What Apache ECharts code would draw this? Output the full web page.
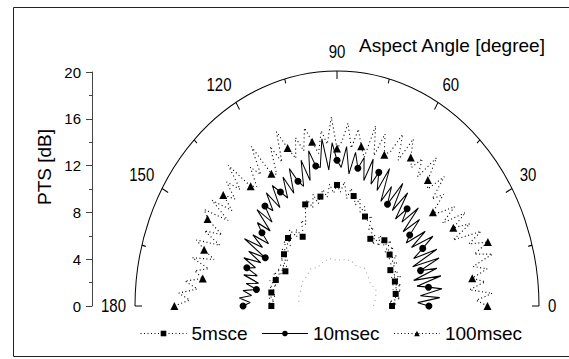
<!DOCTYPE html>
<html>
<head>
<meta charset="utf-8">
<script src="https://cdn.jsdelivr.net/npm/echarts@6/dist/echarts.min.js"></script>
<style>
  html, body { margin: 0; padding: 0; background: #fff; }
  #wrap { position: relative; width: 569px; height: 359px; overflow: hidden; background: #fff; }
  /* the polar plot is drawn round and stretched vertically into an ellipse */
  #polarLayer { position: absolute; left: 0; top: 0; width: 569px; height: 309px;
                transform-origin: 0 0; transform: scaleY(1.1634); }
  #frameLayer { position: absolute; left: 0; top: 0; width: 569px; height: 359px; }
</style>
</head>
<body>
<div id="wrap">
  <div id="polarLayer"></div>
  <div id="frameLayer"></div>
</div>
<script>
const FONT = "'Liberation Sans', Arial, sans-serif";
const STRETCH = 1.1634;

// aspect angle [degree]
const angles = [
  0, 2, 4, 6, 8, 10, 12, 14, 16, 18,
  20, 22, 24, 26, 28, 30, 32, 34, 36, 38,
  40, 42, 44, 46, 48, 50, 52, 54, 56, 58,
  60, 62, 64, 66, 68, 70, 72, 74, 76, 78,
  80, 82, 84, 86, 88, 90, 92, 94, 96, 98,
  100, 102, 104, 106, 108, 110, 112, 114, 116, 118,
  120, 122, 124, 126, 128, 130, 132, 134, 136, 138,
  140, 142, 144, 146, 148, 150, 152, 154, 156, 158,
  160, 162, 164, 166, 168, 170, 172, 174, 176, 178,
  180
];

// PTS [dB], 5 msec integration
const pts5 = [
  5.45, 5.9, 5.2, 6.3, 5.6, 5.9, 6.5, 5.7, 6.6, 5.8,
  6.1, 6.8, 5.9, 6.7, 6.2, 6.1, 7.0, 6.4, 7.3, 6.5,
  6.8, 7.5, 6.6, 7.7, 6.9, 7.3, 6.5, 7.4, 6.3, 7.1,
  6.6, 7.6, 7.2, 8.4, 7.8, 8.1, 8.9, 8.3, 9.4, 8.8,
  9.5, 10.1, 9.2, 10.6, 9.7, 10.3, 9.6, 10.4, 9.3, 10.0,
  9.45, 8.9, 9.8, 8.7, 9.5, 9.2, 8.3, 7.6, 8.1, 7.2,
  6.8, 7.7, 7.1, 8.0, 7.3, 7.55, 6.9, 7.6, 6.7, 7.3,
  6.85, 6.2, 6.9, 6.0, 6.6, 5.9, 6.7, 6.1, 6.9, 6.3,
  6.45, 7.0, 6.2, 6.9, 6.4, 6.6, 6.1, 6.8, 6.2, 6.7,
  6.5
];

// PTS [dB], 10 msec integration
const pts10 = [
  9.1, 8.0, 10.2, 8.3, 10.5, 9.2, 8.1, 10.6, 7.9, 10.4,
  8.8, 10.9, 8.2, 11.0, 8.6, 9.8, 11.2, 8.9, 10.8, 8.7,
  9.4, 11.0, 9.1, 11.6, 9.6, 10.8, 9.4, 11.9, 9.8, 12.3,
  10.0, 11.5, 9.9, 12.8, 10.6, 12.1, 10.9, 13.0, 11.0, 12.9,
  11.9, 13.2, 11.3, 13.6, 11.8, 12.4, 13.9, 11.6, 14.3, 11.9,
  12.1, 13.5, 11.0, 12.9, 10.7, 11.3, 12.6, 10.5, 12.2, 10.4,
  11.2, 12.1, 10.1, 11.9, 10.3, 11.1, 9.6, 11.4, 9.2, 10.6,
  9.7, 8.6, 10.3, 8.9, 10.8, 8.2, 9.9, 8.4, 10.1, 8.7,
  9.5, 8.3, 9.6, 8.0, 9.2, 8.1, 9.4, 8.5, 9.7, 8.6,
  9.3
];

// PTS [dB], 100 msec integration
const pts100 = [
  14.9, 13.8, 15.4, 13.2, 14.8, 13.6, 15.2, 13.9, 16.0, 14.3,
  15.9, 14.1, 15.6, 12.8, 14.9, 13.3, 15.0, 12.6, 14.4, 12.9,
  12.4, 14.2, 13.1, 15.3, 13.4, 14.0, 16.0, 13.6, 15.1, 13.9,
  14.6, 16.1, 13.8, 16.0, 14.2, 13.7, 15.4, 13.3, 15.8, 12.9,
  13.8, 15.2, 13.5, 15.6, 14.0, 13.4, 16.1, 13.8, 15.0, 13.1,
  14.2, 15.5, 13.6, 14.9, 13.2, 14.3, 16.0, 13.4, 15.1, 12.7,
  13.0, 16.0, 13.5, 14.6, 12.9, 13.3, 16.1, 13.8, 15.2, 13.6,
  14.7, 13.2, 15.3, 13.0, 15.5, 14.8, 12.9, 14.6, 12.7, 15.0,
  14.0, 12.8, 14.9, 13.1, 14.4, 13.5, 15.2, 13.9, 15.7, 14.6,
  16.1
];

// faint inner trace near 4 dB
const floorAngles = [0, 10, 20, 30, 40, 50, 60, 70, 80, 90, 100, 110, 120, 130, 140, 150, 160, 170, 180];
const floorPts = [3.6, 3.9, 4.1, 3.8, 4.0, 4.2, 3.9, 4.1, 4.0, 3.9, 4.1, 4.0, 3.8, 4.1, 3.9, 4.0, 3.8, 3.9, 3.7];

const seriesNames = ['5msce', '10msec', '100msec'];
const seriesSymbols = ['rect', 'circle', 'triangle'];
const markerSizes = [6, 7, 8];
const lineTypes = [[1, 2.5], 'solid', [1, 2.5]];
const seriesValues = [pts5, pts10, pts100];

// markers sit on every 10 degrees; they are pre-squashed so they stay round after the stretch
function polarData(vals, size) {
  return vals.map((r, i) => ({
    value: [r, angles[i]],
    symbolSize: angles[i] % 10 === 0 ? [size, size / STRETCH] : 0
  }));
}

const polarChart = echarts.init(document.getElementById('polarLayer'), null, { renderer: 'svg' });
polarChart.setOption({
  animation: false,
  polar: { center: [337, 263], radius: 202 },
  angleAxis: {
    type: 'value', min: 0, max: 180, interval: 30,
    startAngle: 0, endAngle: 180, clockwise: false,
    axisLine: { lineStyle: { color: '#000', width: 1 } },
    axisTick: { inside: true, length: 7, lineStyle: { color: '#000' } },
    minorTick: { show: true, splitNumber: 2, length: 4, lineStyle: { color: '#000' } },
    axisLabel: { fontSize: 15, color: '#000', margin: 9, fontFamily: FONT },
    splitLine: { show: false },
    minorSplitLine: { show: false }
  },
  radiusAxis: {
    type: 'value', min: 0, max: 20, show: false,
    splitLine: { show: false }
  },
  series: [
    {
      name: 'floor', type: 'line', coordinateSystem: 'polar', silent: true,
      symbol: 'none',
      lineStyle: { color: '#aaa', width: 1, type: [1, 3.5] },
      data: floorPts.map((r, i) => [r, floorAngles[i]])
    }
  ].concat(seriesNames.map((name, k) => ({
    name: name, type: 'line', coordinateSystem: 'polar', silent: true,
    symbol: seriesSymbols[k],
    showAllSymbol: true,
    itemStyle: { color: '#000' },
    lineStyle: { color: '#000', width: 1, type: lineTypes[k] },
    data: polarData(seriesValues[k], markerSizes[k])
  })))
});

// frame, radial scale, title and legend (unstretched)
const frameChart = echarts.init(document.getElementById('frameLayer'), null, { renderer: 'svg' });
frameChart.setOption({
  animation: false,
  graphic: [{
    type: 'rect', silent: true,
    shape: { x: 13.5, y: 7.5, width: 600, height: 349 },
    style: { fill: null, stroke: '#222', lineWidth: 1 }
  }],
  title: {
    text: 'Aspect Angle [degree]', left: 359, top: 36, padding: 0,
    textStyle: { fontSize: 19, fontWeight: 'normal', color: '#000', fontFamily: FONT }
  },
  grid: { left: 92, top: 72, height: 234, width: 10 },
  xAxis: { type: 'value', show: false, min: 0, max: 1 },
  yAxis: {
    type: 'value', min: 0, max: 20, interval: 4, position: 'left',
    axisLine: { show: true, lineStyle: { color: '#444', width: 1 } },
    axisTick: { show: true, length: 6, lineStyle: { color: '#444' } },
    minorTick: { show: true, splitNumber: 2, length: 3, lineStyle: { color: '#444' } },
    axisLabel: { fontSize: 15, color: '#000', margin: 11, fontFamily: FONT },
    splitLine: { show: false },
    name: 'PTS [dB]', nameLocation: 'middle', nameRotate: 90, nameGap: 38,
    nameTextStyle: { fontSize: 19, color: '#000', fontFamily: FONT, padding: [0, 0, 0, 44] }
  },
  legend: {
    left: 135, top: 319, itemWidth: 46, itemHeight: 7, itemGap: 14,
    textStyle: { fontSize: 19, color: '#000', fontFamily: FONT },
    lineStyle: { width: 1 },
    data: seriesNames
  },
  series: seriesNames.map((name, k) => ({
    name: name, type: 'line', silent: true,
    symbol: seriesSymbols[k], symbolSize: markerSizes[k],
    itemStyle: { color: '#000' },
    lineStyle: { color: '#000', width: 1, type: lineTypes[k] },
    data: []
  }))
});
</script>
</body>
</html>
